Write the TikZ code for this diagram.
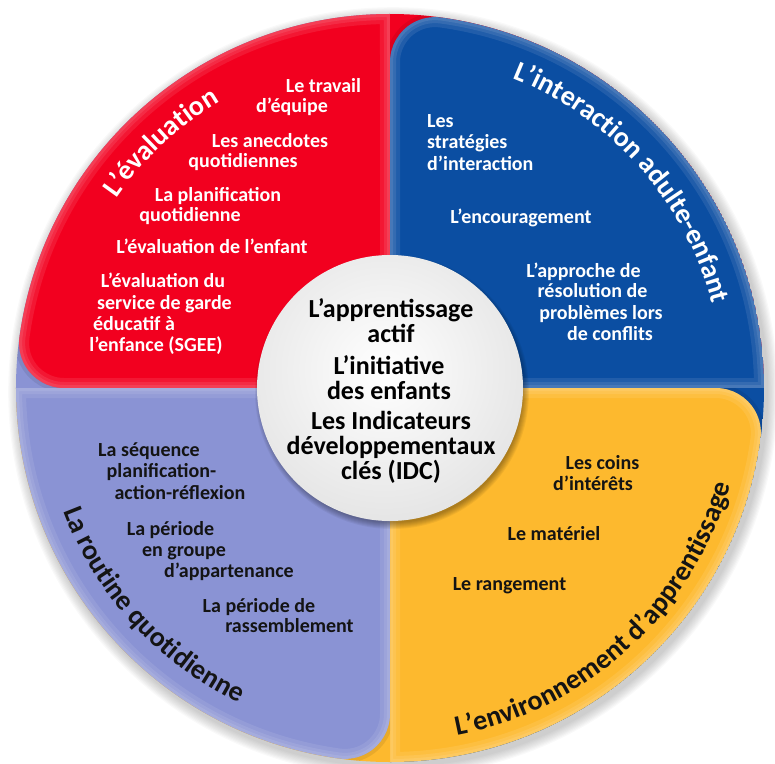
\documentclass[tikz,border=0pt]{standalone}
\usepackage{fontspec}
\setmainfont{Carlito}
\usetikzlibrary{decorations.text}

\definecolor{ring-red}{HTML}{F2001F}
\definecolor{ring-blue}{HTML}{0B4EA2}
\definecolor{ring-lilac}{HTML}{8A93D4}
\definecolor{ring-amber}{HTML}{FDB92E}
\definecolor{ring-ink}{HTML}{141414}

\newcommand{\titlewhite}{\fontsize{28}{28}\selectfont\bfseries\color{white}}
\newcommand{\titleink}{\fontsize{28}{28}\selectfont\bfseries\color{ring-ink}}

\tikzset{
  item/.style={font=\fontsize{20}{21}\selectfont\bfseries, inner sep=0pt,
    text height=13pt, text depth=4pt},
  witem/.style={item, text=white},
  ditem/.style={item, text=ring-ink},
  hub/.style={font=\fontsize{26}{25}\selectfont\bfseries, align=center,
    text=black, inner sep=0pt},
}

\begin{document}
\begin{tikzpicture}[x=1pt, y=1pt, line join=round]
    % frame
    \useasboundingbox (-390,-375) rectangle (385,388);

    % outer shadow
    \foreach \k in {1,...,9}
        \fill[black, opacity=.025] (3,-4) circle ({374+1.2*\k});

    % quarters with one rounded corner each
    \foreach \a/\col/\nbr in {180/ring-red/ring-lilac, 90/ring-blue/ring-red,
                              0/ring-amber/ring-blue, -90/ring-lilac/ring-amber} {
        \begin{scope}
            \clip (0,0) -- (\a:374) arc[start angle=\a, end angle=\a-90, radius=374pt] -- cycle;
            \fill[\nbr] (0,0) circle (374);
            \draw[black, opacity=.08, line width=8pt]
                (0,0) -- (\a:325.9) arc[start angle=\a+90, end angle=\a-7.86, radius=45pt]
                arc[start angle=\a-7.86, end angle=\a-90, radius=374pt] -- cycle;
            \fill[\col]
                (0,0) -- (\a:325.9) arc[start angle=\a+90, end angle=\a-7.86, radius=45pt]
                arc[start angle=\a-7.86, end angle=\a-90, radius=374pt] -- cycle;
            \clip (0,0) -- (\a:325.9) arc[start angle=\a+90, end angle=\a-7.86, radius=45pt]
                arc[start angle=\a-7.86, end angle=\a-90, radius=374pt] -- cycle;
            \foreach \w in {6,12,20}
                \draw[white, opacity=.09, line width=\w pt]
                    (0,0) -- (\a:325.9) arc[start angle=\a+90, end angle=\a-7.86, radius=45pt]
                    arc[start angle=\a-7.86, end angle=\a-90, radius=374pt] -- cycle;
        \end{scope}
    }

    % hub
    \foreach \k in {0,...,6}
        \fill[black, opacity=.05] (2,-4) circle ({131+\k});
    \begin{scope}
        \clip (0,0) circle (133);
        \shade[inner color=white, outer color=black!20] (-6,18) circle (300);
    \end{scope}
    \node[hub] (hub1) at (1,67.5) {L’apprentissage\\actif};
    \node[hub] (hub2) at (-1,10.5) {L’initiative\\des enfants};
    \node[hub] (hub3) at (1,-59) {Les Indicateurs\\développementaux\\clés (IDC)};

    % titles along the rim
    \path[decorate, decoration={text along path, text align=center,
        text={|\titlewhite|L’évaluation}}]
        (170:333) arc[start angle=170, end angle=96, radius=333pt];
    \path[decorate, decoration={text along path, text align=center,
        text={|\titlewhite|L’interaction adulte-enfant}}]
        (80:333) arc[start angle=80, end angle=3, radius=333pt];
    \path[decorate, decoration={text along path, text align=center,
        text={|\titleink|La routine quotidienne}}]
        (185:349) arc[start angle=185, end angle=260, radius=349pt];
    \path[decorate, decoration={text along path, text align=center,
        text={|\titleink|L’environnement d’apprentissage}}]
        (-95:354) arc[start angle=-95, end angle=0, radius=354pt];

    % evaluation
    \node[witem] (ev1a) at (-66.5,300) {Le travail};
    \node[witem] (ev1b) at (-98,280) {d’équipe};
    \node[witem] (ev2a) at (-120,245) {Les anecdotes};
    \node[witem] (ev2b) at (-147,225) {quotidiennes};
    \node[witem] (ev3a) at (-172,191) {La planification};
    \node[witem] (ev3b) at (-200,171) {quotidienne};
    \node[witem] (ev4) at (-178,139) {L’évaluation de l’enfant};
    \node[witem] (ev5a) at (-227,105) {L’évaluation du};
    \node[witem] (ev5b) at (-225.5,83) {service de garde};
    \node[witem] (ev5c) at (-256,62) {éducatif à};
    \node[witem] (ev5d) at (-234,41) {l’enfance (SGEE)};

    % interaction
    \node[witem, anchor=west] (in1a) at (37,265) {Les};
    \node[witem, anchor=west] (in1b) at (37,244) {stratégies};
    \node[witem, anchor=west] (in1c) at (37,222) {d’interaction};
    \node[witem] (in2) at (131,169) {L’encouragement};
    \node[witem] (in3a) at (193.5,115) {L’approche de};
    \node[witem] (in3b) at (202.5,95) {résolution de};
    \node[witem] (in3c) at (211,73) {problèmes lors};
    \node[witem] (in3d) at (220,52) {de conflits};

    % routine
    \node[ditem] (ro1a) at (-241,-64) {La séquence};
    \node[ditem] (ro1b) at (-228.5,-85) {planification-};
    \node[ditem] (ro1c) at (-210,-107) {action-réflexion};
    \node[ditem] (ro2a) at (-219.5,-143) {La période};
    \node[ditem] (ro2b) at (-206,-164) {en groupe};
    \node[ditem] (ro2c) at (-161,-185) {d’appartenance};
    \node[ditem] (ro3a) at (-131,-220) {La période de};
    \node[ditem] (ro3b) at (-100.5,-240) {rassemblement};

    % environment
    \node[ditem] (en1a) at (212.5,-77) {Les coins};
    \node[ditem] (en1b) at (203,-98) {d’intérêts};
    \node[ditem] (en2) at (164,-148) {Le matériel};
    \node[ditem] (en3) at (119.5,-198) {Le rangement};

\end{tikzpicture}
\end{document}
